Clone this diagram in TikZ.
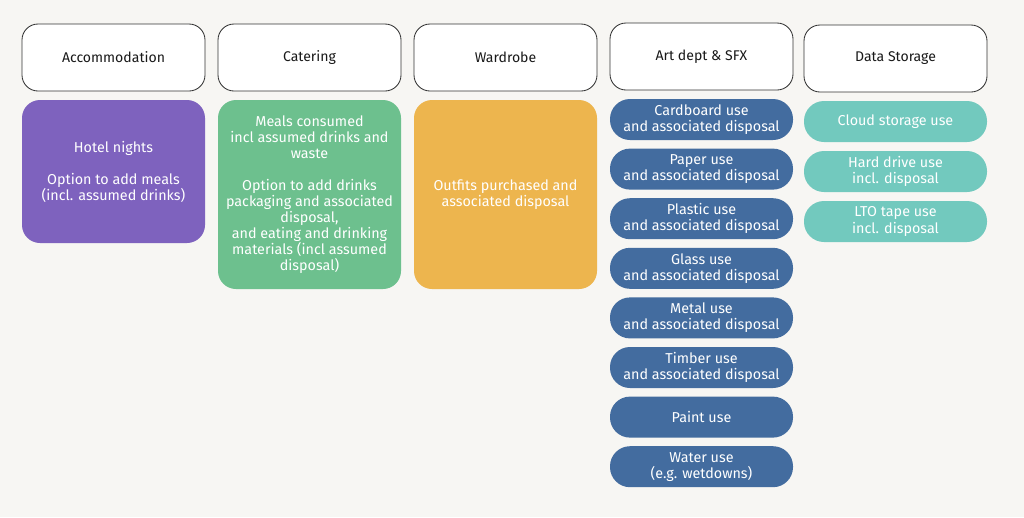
\documentclass[tikz,border=0pt]{standalone}
\usepackage{fontspec}
\setmainfont{Fira Sans}
\usepackage{xcolor}
\usepackage{tikz}
\usetikzlibrary{positioning}
\definecolor{bg}{HTML}{F7F6F3}
\definecolor{purplebox}{HTML}{7E62BE}
\definecolor{greenbox}{HTML}{6DC08E}
\definecolor{orangebox}{HTML}{EDB54E}
\definecolor{bluebox}{HTML}{436C9F}
\definecolor{tealbox}{HTML}{72C9BE}
\tikzset{head node/.style={draw=black!80,line width=0.6pt,rounded corners=0.4cm,fill=white,minimum width=4.575cm,minimum height=1.675cm,inner sep=0pt,text=black!90,font=\fontsize{10}{11.4}\selectfont},
block node/.style={rounded corners=0.45cm,minimum width=4.575cm,inner sep=0pt,align=center,text=white,font=\fontsize{10.2}{11.4}\selectfont},
pill node/.style={rounded corners=0.5cm,minimum width=4.575cm,minimum height=1.025cm,inner sep=0pt,outer sep=0pt,align=center,text=white,font=\fontsize{10.2}{11.4}\selectfont},}

\begin{document}
\begin{tikzpicture}
    \fill[bg] (0,0) rectangle (25.6,-12.925);
    \useasboundingbox (0,0) rectangle (25.6,-12.925);

    % headers
    \node[head node] (acc) at (2.8375,-1.4375) {Accommodation};
    \node[head node] (cat) at (7.7375,-1.4375) {Catering};
    \node[head node] (war) at (12.6375,-1.4375) {Wardrobe};
    \node[head node] (art) at (17.5375,-1.4125) {Art dept \& SFX};
    \node[head node] (dat) at (22.3875,-1.4625) {Data Storage};

    % big boxes
    \node[block node,fill=purplebox,minimum height=3.575cm] (hotel) at (2.8375,-4.2875)
        {Hotel nights\\[11.4pt]Option to add meals\\(incl. assumed drinks)};
    \node[block node,fill=greenbox,minimum height=4.725cm] (meals) at (7.7375,-4.8625)
        {Meals consumed\\incl assumed drinks and\\waste\\[11.4pt]Option to add drinks\\packaging and associated\\disposal,\\and eating and drinking\\materials (incl assumed\\disposal)};
    \node[block node,fill=orangebox,minimum height=4.725cm] (outfit) at (12.6375,-4.8625)
        {Outfits purchased and\\associated disposal};

    % art dept
    \node[pill node,fill=bluebox] (card) at (17.5375,-2.9875) {Cardboard use\\and associated disposal};
    \node[pill node,fill=bluebox] (paper) [below = .215cm of card] {Paper use\\and associated disposal};
    \node[pill node,fill=bluebox] (plastic) [below = .215cm of paper] {Plastic use\\and associated disposal};
    \node[pill node,fill=bluebox] (glass) [below = .215cm of plastic] {Glass use\\and associated disposal};
    \node[pill node,fill=bluebox] (metal) [below = .215cm of glass] {Metal use\\and associated disposal};
    \node[pill node,fill=bluebox] (timber) [below = .215cm of metal] {Timber use\\and associated disposal};
    \node[pill node,fill=bluebox] (paint) [below = .215cm of timber] {Paint use};
    \node[pill node,fill=bluebox] (water) [below = .215cm of paint] {Water use\\(e.g. wetdowns)};

    % data storage
    \node[pill node,fill=tealbox] (cloud) at (22.3875,-3.0375) {Cloud storage use};
    \node[pill node,fill=tealbox] (hdd) [below = .225cm of cloud] {Hard drive use\\incl. disposal};
    \node[pill node,fill=tealbox] (lto) [below = .225cm of hdd] {LTO tape use\\incl. disposal};
\end{tikzpicture}
\end{document}
